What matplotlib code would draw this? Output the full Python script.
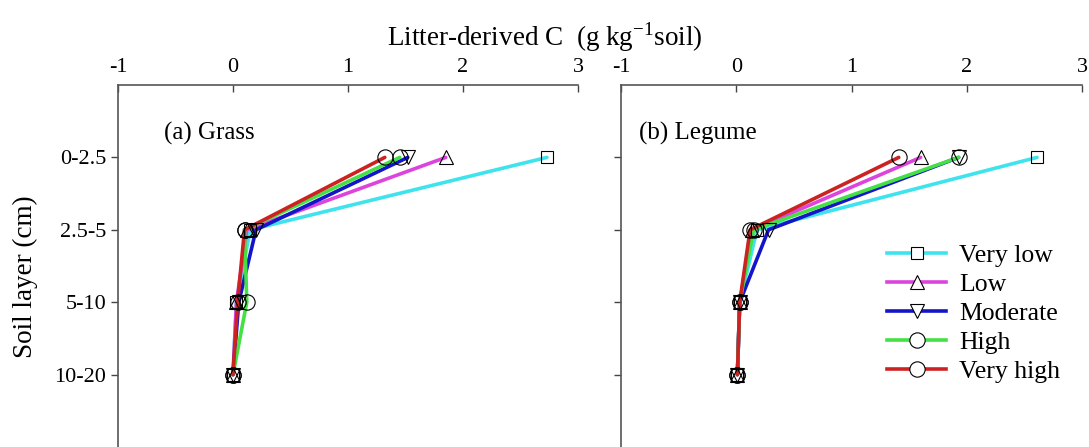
import matplotlib
matplotlib.use("Agg")
import matplotlib.pyplot as plt
from matplotlib.lines import Line2D

plt.rcParams['font.family'] = ['Liberation Serif', 'DejaVu Serif']

layers = ["0-2.5", "2.5-5", "5-10", "10-20"]
series = ["Very low", "Low", "Moderate", "High", "Very high"]
grass = {
    "Very low":  [2.73, 0.15, 0.03, 0.00],
    "Low":       [1.85, 0.12, 0.03, 0.00],
    "Moderate":  [1.52, 0.20, 0.05, 0.00],
    "High":      [1.45, 0.10, 0.12, 0.00],
    "Very high": [1.32, 0.10, 0.04, 0.00],
}
legume = {
    "Very low":  [2.61, 0.18, 0.03, 0.01],
    "Low":       [1.60, 0.14, 0.03, 0.01],
    "Moderate":  [1.93, 0.28, 0.03, 0.01],
    "High":      [1.93, 0.15, 0.03, 0.01],
    "Very high": [1.41, 0.12, 0.03, 0.01],
}
x_ticks = [-1, 0, 1, 2, 3]
colors = {"Very low": "#3fe3ee", "Low": "#dd44dd", "Moderate": "#1414c8",
          "High": "#44e044", "Very high": "#cc2222"}
markers = {"Very low": "s", "Low": "^", "Moderate": "v", "High": "o", "Very high": "o"}
msize = {"Very low": 9, "Low": 10, "Moderate": 10, "High": 11, "Very high": 11}

fig = plt.figure(figsize=(10.89, 4.47), dpi=100)
ax1 = fig.add_axes([118/1089, 0.0, 460/1089, (447-85)/447])
ax2 = fig.add_axes([621/1089, 0.0, 461/1089, (447-85)/447])

ypos = list(range(1, len(layers) + 1))
for ax, data, lab in [(ax1, grass, "(a) Grass"), (ax2, legume, "(b) Legume")]:
    for s in series:
        ax.plot(data[s], ypos, color=colors[s], lw=2.6, zorder=3, solid_capstyle='round')
        ax.plot(data[s], ypos, ls='none', marker=markers[s], ms=msize[s],
                mfc='none', mec='black', mew=0.8, zorder=4)
    ax.set_xlim(-1, 3)
    ax.set_ylim(5, 0)
    ax.xaxis.tick_top()
    ax.set_xticks(x_ticks)
    ax.set_xticklabels([str(v) for v in x_ticks])
    ax.tick_params(axis='x', direction='in', length=5, width=1, pad=6, labelsize=16, color='#444444')
    ax.tick_params(axis='y', direction='out', length=5, width=1, labelsize=16, color='#444444')
    ax.set_yticks(ypos)
    for sp in ['bottom', 'right']:
        ax.spines[sp].set_visible(False)
    for sp in ['top', 'left']:
        ax.spines[sp].set_color('#555555')
        ax.spines[sp].set_linewidth(1.2)
    ax.text(0.1 if ax is ax1 else 0.04, 0.865, lab, transform=ax.transAxes,
            fontsize=18, va='center', ha='left')

ax1.set_yticklabels(layers)
ax2.set_yticklabels([])
ax1.set_ylabel("Soil layer (cm)", fontsize=19.5)
ax1.yaxis.set_label_coords(-0.174, 0.47)

fig.text(545/1089, 1 - 37/447, r"Litter-derived C  (g kg$^{\mathregular{-1}}$soil)",
         fontsize=19.5, ha='center', va='center')

handles = [Line2D([0], [0], color=colors[s], lw=2.6, marker=markers[s], ms=msize[s],
                  mfc='white', mec='black', mew=0.8) for s in series]
ax2.legend(handles, series, loc='upper left', bbox_to_anchor=(0.555, 0.59),
           frameon=False, fontsize=18.5, handlelength=2.3, handletextpad=0.5,
           labelspacing=0.24, borderaxespad=0)

fig.savefig("out.png", dpi=100)
